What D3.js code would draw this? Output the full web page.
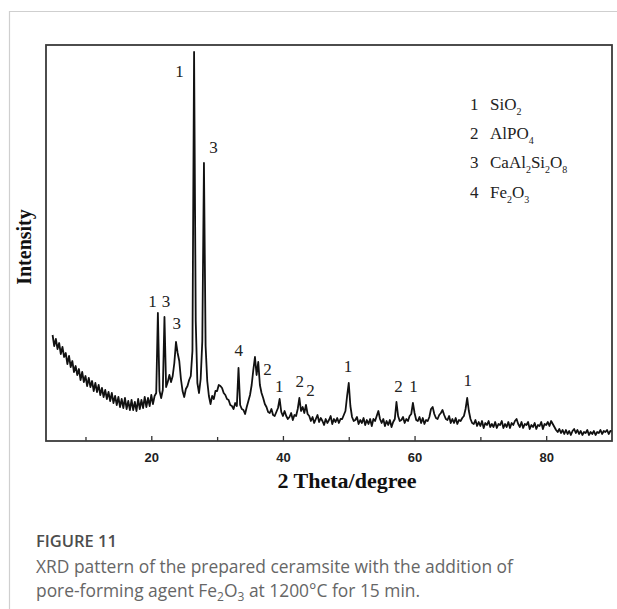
<!DOCTYPE html>
<html>
<head>
<meta charset="utf-8">
<script src="https://cdn.jsdelivr.net/npm/d3@7"></script>
<style>
  html, body { margin: 0; padding: 0; background: #fff; }
  svg { display: block; }
</style>
</head>
<body>
<svg id="chart" width="617" height="609"></svg>
<script>
// ---------------- DATA ----------------
// XRD scan: start angle and step (degrees 2θ), intensities (arb. units)
const scanStart = 5;
const scanStep = 0.25;
const intensity = [
  106, 95, 102, 92,   // 5
  98, 87, 94, 84,     // 6
  88, 77, 85, 74,     // 7
  80, 69, 75, 66,     // 8
  72, 61, 69, 59,     // 9
  65, 55, 63, 54,     // 10
  60, 50, 58, 49,     // 11
  56, 46, 53, 44,     // 12
  51, 42, 49, 40,     // 13
  48, 38, 45, 36,     // 14
  44, 34, 42, 33,     // 15
  43, 32, 40, 31,     // 16
  41, 31, 39, 30,     // 17
  42, 32, 41, 33,     // 18
  44, 34, 43, 35,     // 19
  46, 37, 45, 48,     // 20
  128, 50, 43, 51,    // 21
  124, 54, 59, 66,    // 22
  59, 65, 78, 99,     // 23
  88, 80, 62, 50,     // 24
  44, 52, 55, 61,     // 25
  65, 90, 389, 120,   // 26
  58, 48, 62, 100,    // 27
  278, 95, 60, 45,    // 28
  37, 45, 42, 50,     // 29
  50, 56, 55, 53,     // 30
  48, 46, 42, 41,     // 31
  36, 35, 32, 38,     // 32
  35, 73, 36, 32,     // 33
  31, 27, 34, 40,     // 34
  46, 56, 71, 84,     // 35
  66, 79, 56, 48,     // 36
  43, 37, 34, 29,     // 37
  28, 32, 26, 25,     // 38
  29, 33, 42, 29,     // 39
  25, 30, 25, 22,     // 40
  24, 28, 21, 26,     // 41
  25, 32, 43, 30,     // 42
  34, 28, 36, 27,     // 43
  25, 20, 24, 18,     // 44
  22, 26, 19, 23,     // 45
  20, 16, 22, 18,     // 46
  21, 25, 17, 22,     // 47
  19, 23, 18, 22,     // 48
  22, 26, 30, 45,     // 49
  58, 35, 24, 20,     // 50
  21, 24, 17, 21,     // 51
  18, 23, 16, 21,     // 52
  17, 22, 15, 22,     // 53
  20, 25, 30, 22,     // 54
  18, 22, 15, 20,     // 55
  16, 21, 14, 19,     // 56
  22, 39, 25, 20,     // 57
  21, 24, 18, 22,     // 58
  20, 25, 27, 38,     // 59
  28, 21, 20, 24,     // 60
  18, 23, 17, 21,     // 61
  20, 24, 32, 34,     // 62
  27, 23, 22, 26,     // 63
  28, 31, 26, 22,     // 64
  21, 25, 18, 22,     // 65
  18, 23, 17, 21,     // 66
  20, 23, 25, 32,     // 67
  43, 30, 22, 18,     // 68
  17, 21, 15, 19,     // 69
  15, 20, 13, 18,     // 70
  16, 20, 14, 17,     // 71
  14, 19, 13, 17,     // 72
  16, 20, 13, 17,     // 73
  14, 19, 13, 18,     // 74
  16, 20, 22, 17,     // 75
  14, 19, 13, 17,     // 76
  16, 19, 12, 16,     // 77
  14, 18, 12, 16,     // 78
  15, 19, 12, 17,     // 79
  16, 19, 15, 20,     // 80
  17, 14, 11, 9,      // 81
  12, 8, 11, 7,       // 82
  11, 7, 10, 6,       // 83
  10, 12, 8, 11,      // 84
  7, 10, 6, 9,        // 85
  8, 11, 6, 9,        // 86
  7, 10, 6, 9,        // 87
  8, 11, 7, 10,       // 88
  9, 11, 7, 10,       // 89
  10                  // 90
];

// Peak labels: phase number, 2θ position, label height (intensity units)
const peakLabelText  = ["1", "3", "1", "3", "3", "4", "2", "1", "2", "2", "1", "2", "1", "1"];
const peakLabelTheta = [24.3, 29.45, 20.2, 22.25, 23.85, 33.3, 37.65, 39.45, 42.55, 44.2, 49.9, 57.55, 59.85, 68.1];
const peakLabelLevel = [364, 288, 134, 134, 112, 85, 66, 49, 54, 45, 69, 49, 49, 55];

// Legend
const legendNumbers = ["1", "2", "3", "4"];
const legendPhases = [
  [["SiO", "2"]],
  [["AlPO", "4"]],
  [["CaAl", "2"], ["Si", "2"], ["O", "8"]],
  [["Fe", "2"], ["O", "3"]]
];

// Axes
const xDomain = [4, 90];
const xMajorTicks = [20, 40, 60, 80];
const xMinorTicks = [10, 30, 50, 70];
const xTitle = "2 Theta/degree";
const yTitle = "Intensity";

// Caption
const figureLabel = "FIGURE 11";
const captionLine1 = "XRD pattern of the prepared ceramsite with the addition of";
const captionLine2 = [["pore-forming agent Fe", "2"], ["O", "3"], [" at 1200°C for 15 min.", ""]];

// ---------------- DRAW ----------------
const svg = d3.select("#chart");
const plot = { left: 46, right: 612, top: 45, bottom: 441 };

// Card border
svg.append("path")
  .attr("d", `M9.5,609 L9.5,11.5 L617,11.5`)
  .attr("fill", "none")
  .attr("stroke", "#cfcfcf")
  .attr("stroke-width", 1.2);

const x = d3.scaleLinear().domain(xDomain).range([plot.left, plot.right]);
const y = d3.scaleLinear().domain([0, 396]).range([plot.bottom, plot.top]);

const scan = intensity.map((v, i) => ({ theta: scanStart + i * scanStep, value: v }));

// Pattern line
svg.append("path")
  .datum(scan)
  .attr("fill", "none")
  .attr("stroke", "#111")
  .attr("stroke-width", 1.8)
  .attr("stroke-linejoin", "round")
  .attr("d", d3.line().x(d => x(d.theta)).y(d => y(d.value)));

// Axis ticks (inward)
const axisMajor = svg.append("g")
  .attr("transform", `translate(0,${plot.bottom})`)
  .call(d3.axisBottom(x).tickValues(xMajorTicks).tickSize(-5).tickPadding(12).tickFormat(d3.format("d")));
axisMajor.select(".domain").remove();
axisMajor.selectAll(".tick line").attr("stroke", "#333").attr("stroke-width", 1.3);
axisMajor.selectAll(".tick text")
  .attr("fill", "#222")
  .style("font-family", "'Liberation Sans', Arial, sans-serif")
  .style("font-weight", "bold")
  .style("font-size", "13px");

const axisMinor = svg.append("g")
  .attr("transform", `translate(0,${plot.bottom})`)
  .call(d3.axisBottom(x).tickValues(xMinorTicks).tickSize(-4).tickFormat(""));
axisMinor.select(".domain").remove();
axisMinor.selectAll(".tick line").attr("stroke", "#333").attr("stroke-width", 1.3);

// Frame
svg.append("rect")
  .attr("x", plot.left).attr("y", plot.top)
  .attr("width", plot.right - plot.left).attr("height", plot.bottom - plot.top)
  .attr("fill", "none")
  .attr("stroke", "#3a3a3a")
  .attr("stroke-width", 1.8);

// Axis titles
svg.append("text")
  .attr("x", 347).attr("y", 488)
  .attr("text-anchor", "middle")
  .style("font-family", "'Liberation Serif', 'Times New Roman', serif")
  .style("font-weight", "bold")
  .style("font-size", "22px")
  .attr("fill", "#111")
  .text(xTitle);

svg.append("text")
  .attr("transform", "translate(31,247) rotate(-90)")
  .attr("text-anchor", "middle")
  .style("font-family", "'Liberation Serif', 'Times New Roman', serif")
  .style("font-weight", "bold")
  .style("font-size", "20px")
  .attr("fill", "#111")
  .text(yTitle);

// Peak labels
svg.append("g").selectAll("text")
  .data(peakLabelText)
  .join("text")
  .attr("x", (d, i) => x(peakLabelTheta[i]))
  .attr("y", (d, i) => y(peakLabelLevel[i]))
  .attr("text-anchor", "middle")
  .style("font-family", "'Liberation Serif', 'Times New Roman', serif")
  .style("font-size", "17px")
  .attr("fill", "#222")
  .text(d => d);

// helper: text with subscripts, resetting the baseline after each subscript
function writeWithSubs(textSel, parts, subShift, subSize) {
  let shift = 0;
  parts.forEach(([base, sub]) => {
    textSel.append("tspan").attr("dy", -shift).text(base);
    shift = 0;
    if (sub) {
      textSel.append("tspan").attr("dy", subShift).style("font-size", subSize).text(sub);
      shift = subShift;
    }
  });
}

// Legend
const legend = svg.append("g").attr("transform", "translate(470,110)");
legendNumbers.forEach((num, i) => {
  const row = legend.append("g").attr("transform", `translate(0,${i * 29.2})`);
  row.append("text")
    .attr("x", 0).attr("y", 0)
    .style("font-family", "'Liberation Serif', 'Times New Roman', serif")
    .style("font-size", "17px")
    .attr("fill", "#222")
    .text(num);
  const t = row.append("text")
    .attr("x", 20).attr("y", 0)
    .style("font-family", "'Liberation Serif', 'Times New Roman', serif")
    .style("font-size", "17px")
    .attr("fill", "#222");
  writeWithSubs(t, legendPhases[i], 5, "10px");
});

// Caption
svg.append("text")
  .attr("x", 36).attr("y", 547)
  .style("font-family", "'Open Sans', 'Noto Sans', sans-serif")
  .style("font-weight", "600")
  .style("font-size", "16.5px")
  .attr("fill", "#4d4d4d")
  .text(figureLabel);

svg.append("text")
  .attr("x", 36).attr("y", 573)
  .style("font-family", "'Open Sans', 'Noto Sans', sans-serif")
  .style("font-size", "17.4px")
  .attr("fill", "#666")
  .text(captionLine1);

const cap2 = svg.append("text")
  .attr("x", 36).attr("y", 597)
  .style("font-family", "'Open Sans', 'Noto Sans', sans-serif")
  .style("font-size", "17.4px")
  .attr("fill", "#666");
writeWithSubs(cap2, captionLine2, 4, "12px");
</script>
</body>
</html>
